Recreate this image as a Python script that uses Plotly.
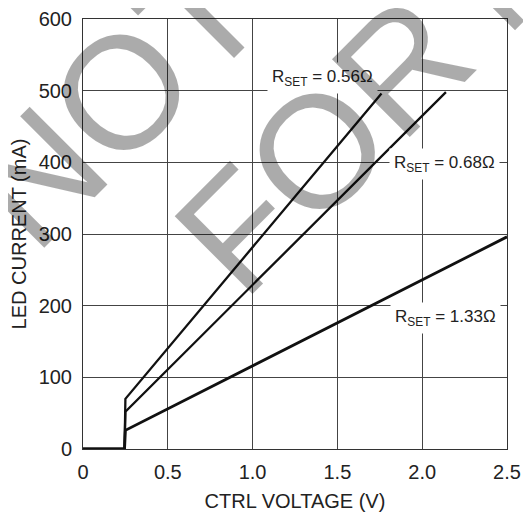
import plotly.graph_objects as go

# ---- data ----
x_r056 = [0, 0.245, 0.25, 1.76]
y_r056 = [0, 0, 70, 496]
x_r068 = [0, 0.245, 0.25, 2.14]
y_r068 = [0, 0, 52, 498]
x_r133 = [0, 0.245, 0.25, 2.5]
y_r133 = [0, 0, 26, 296]

series_labels = ["R<sub>SET</sub> = 0.56Ω", "R<sub>SET</sub> = 0.68Ω", "R<sub>SET</sub> = 1.33Ω"]
label_x = [1.415, 2.13, 2.14]
label_y = [518, 397, 183]

x_tickvals = [0, 0.5, 1.0, 1.5, 2.0, 2.5]
x_ticktext = ["0", "0.5", "1.0", "1.5", "2.0", "2.5"]
y_tickvals = [0, 100, 200, 300, 400, 500, 600]
y_ticktext = ["0", "100", "200", "300", "400", "500", "600"]

watermark_words = ["NOT", "FOR", "NEW"]
watermark_x = [0.075, 0.568, 1.215]
watermark_y = [0.816, 0.707, 1.350]

FONT = "Liberation Sans, Arial, Helvetica, sans-serif"

fig = go.Figure()
for xs, ys, w in [(x_r056, y_r056, 2.3), (x_r068, y_r068, 2.3), (x_r133, y_r133, 2.8)]:
    fig.add_trace(go.Scatter(x=xs, y=ys, mode="lines",
                             line=dict(color="#111111", width=w),
                             cliponaxis=False, showlegend=False, hoverinfo="skip"))

annotations = []
for t, lx, ly in zip(series_labels, label_x, label_y):
    annotations.append(dict(x=lx, y=ly, xref="x", yref="y", text=t, showarrow=False,
                            font=dict(family=FONT, size=17, color="#222222"),
                            bgcolor="white", borderpad=4,
                            xanchor="center", yanchor="middle"))
for wtxt, wx, wy in zip(watermark_words, watermark_x, watermark_y):
    annotations.append(dict(x=wx, y=wy, xref="paper", yref="paper", text=wtxt, showarrow=False,
                            textangle=-45,
                            font=dict(family=FONT, size=160, color="rgba(0,0,0,0.33)"),
                            xanchor="center", yanchor="middle"))

axis_common = dict(showgrid=True, gridcolor="#444444", gridwidth=1,
                   showline=True, linecolor="#333333", linewidth=1, mirror=True,
                   zeroline=False, ticks="",
                   tickfont=dict(family=FONT, size=20, color="#222222"))

# page body has an 8px default margin: figure is sized to end at the window edge
fig.update_layout(
    width=523, height=504,
    margin=dict(l=75, r=24, t=11, b=63, autoexpand=False),
    paper_bgcolor="white", plot_bgcolor="white",
    font=dict(family=FONT, color="#222222"),
    annotations=annotations,
    xaxis=dict(range=[0, 2.5], tickvals=x_tickvals, ticktext=x_ticktext,
               title=dict(text="CTRL VOLTAGE (V)", font=dict(family=FONT, size=20, color="#222222"), standoff=11),
               ticklabelstandoff=5, automargin=False,
               **axis_common),
    yaxis=dict(range=[0, 600], tickvals=y_tickvals, ticktext=y_ticktext,
               title=dict(text="LED CURRENT (mA)", font=dict(family=FONT, size=20, color="#222222"), standoff=6),
               ticklabelstandoff=6, automargin=False,
               **axis_common),
)

fig.write_html("out.html")
